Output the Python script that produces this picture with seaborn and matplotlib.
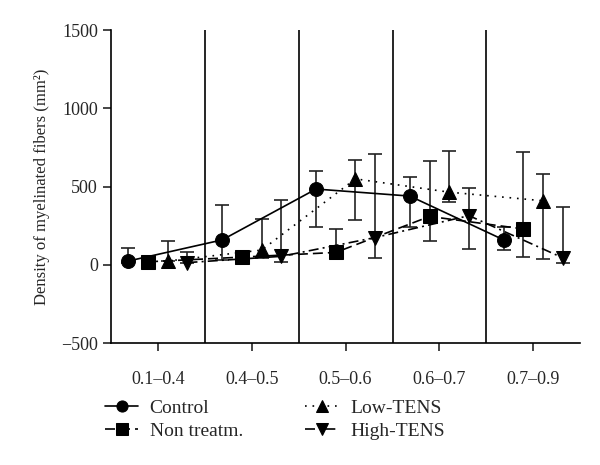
import numpy as np
import pandas as pd
import matplotlib
matplotlib.use("Agg")
import matplotlib.pyplot as plt
import seaborn as sns

# diameter classes (micrometers)
categories = ['0.1–0.4', '0.4–0.5', '0.5–0.6', '0.6–0.7', '0.7–0.9']
groups = ['Control', 'Non treatm.', 'Low-TENS', 'High-TENS']

# mean density and error bar ends
control_mean = [25, 160, 485, 440, 160]
control_upper = [110, 380, 600, 565, 245]
control_lower = [10, 30, 240, 245, 95]

non_mean = [20, 50, 80, 310, 230]
non_upper = [20, 50, 230, 665, 720]
non_lower = [20, 50, 80, 155, 50]

low_mean = [25, 95, 550, 465, 410]
low_upper = [155, 295, 670, 730, 580]
low_lower = [25, 45, 285, 405, 40]

high_mean = [15, 55, 175, 315, 45]
high_upper = [85, 415, 710, 490, 370]
high_lower = [15, 20, 45, 100, 10]

means = [control_mean, non_mean, low_mean, high_mean]
uppers = [control_upper, non_upper, low_upper, high_upper]
lowers = [control_lower, non_lower, low_lower, high_lower]

sns.set_style("ticks")
plt.rcParams['font.family'] = ['Liberation Serif', 'DejaVu Serif']

# within-category shift of each group
offsets = {'Control': -0.315, 'Non treatm.': -0.105, 'Low-TENS': 0.105, 'High-TENS': 0.315}
markers = {'Control': 'o', 'Non treatm.': 's', 'Low-TENS': '^', 'High-TENS': 'v'}
dashes = {'Control': '', 'Non treatm.': (6, 3), 'Low-TENS': (1, 3.5), 'High-TENS': (6, 2.5, 1.2, 2.5)}

rows = []
for g, m, up, lo in zip(groups, means, uppers, lowers):
    for i, cat in enumerate(categories):
        rows.append({'group': g, 'category': cat, 'xpos': i + offsets[g],
                     'value': m[i], 'upper': up[i], 'lower': lo[i]})
df = pd.DataFrame(rows)

fig = plt.figure(figsize=(6, 4.65), dpi=100)
ax = fig.add_axes([0.185, 0.262, 0.782, 0.673])

# category separators
for b in np.arange(0.5, len(categories) - 1, 1):
    ax.axvline(b, color='black', lw=1.2, zorder=1)

for g in groups:
    d = df[df['group'] == g]
    ax.errorbar(d['xpos'], d['value'],
                yerr=[d['value'] - d['lower'], d['upper'] - d['value']],
                fmt='none', ecolor='#222222', elinewidth=1.2, capsize=5,
                capthick=1.2, zorder=2)

sns.lineplot(data=df, x='xpos', y='value', hue='group', style='group',
             hue_order=groups, style_order=groups,
             palette={g: 'black' for g in groups},
             markers=markers, dashes=dashes, markersize=10,
             markeredgecolor='black', linewidth=1.2, ax=ax, zorder=3)

handles, labels = ax.get_legend_handles_labels()
ax.get_legend().remove()
fig.legend(handles, labels, ncol=2, loc='upper left',
           bbox_to_anchor=(0.175, 0.142), frameon=False,
           fontsize=14, handlelength=1.7, columnspacing=3.2,
           labelspacing=0.3, handletextpad=0.6, markerscale=0.8,
           borderpad=0, borderaxespad=0)

ax.set_xlim(-0.5, len(categories) - 0.5)
ax.set_ylim(-500, 1500)
ax.set_xticks(range(len(categories)))
ax.set_xticklabels(categories)
ax.set_yticks([-500, 0, 500, 1000, 1500])
ax.set_xlabel('')
ax.set_ylabel('Density of myelinated fibers (mm²)', fontsize=12, labelpad=8)
ax.tick_params(axis='both', labelsize=13, direction='out', length=6, width=1.2)
ax.tick_params(axis='x', pad=14)
sns.despine(ax=ax)
for s in ['left', 'bottom']:
    ax.spines[s].set_linewidth(1.2)
    ax.spines[s].set_color('black')

fig.savefig('out.png', dpi=100)
